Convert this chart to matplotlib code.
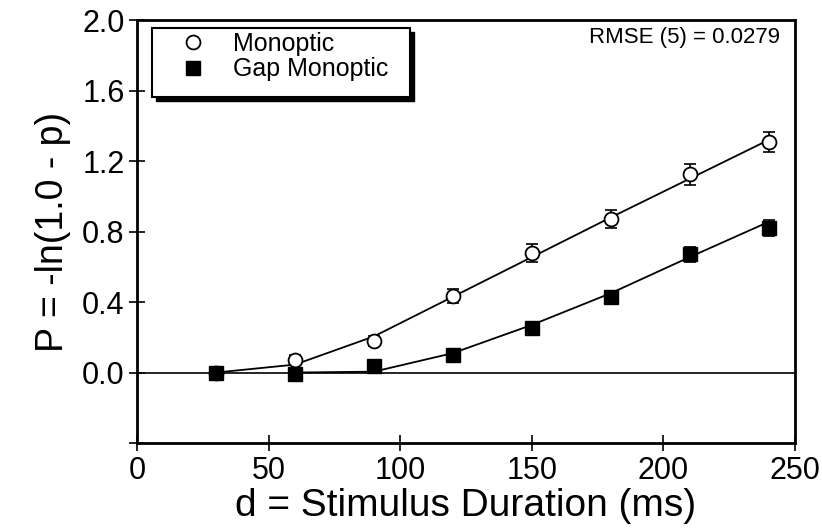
import matplotlib.pyplot as plt
from matplotlib.patches import Rectangle

plt.rcParams['font.family'] = ['Liberation Sans', 'DejaVu Sans']

durations = [30, 60, 90, 120, 150, 180, 210, 240]

# observed data
mono = [0.0, 0.07, 0.18, 0.435, 0.68, 0.87, 1.125, 1.31]
mono_err = [0.02, 0.03, 0.03, 0.04, 0.05, 0.05, 0.06, 0.057]
gap = [0.0, -0.01, 0.035, 0.10, 0.255, 0.43, 0.67, 0.82]
gap_err = [0.02, 0.02, 0.02, 0.03, 0.03, 0.03, 0.04, 0.045]

# model fits
mono_fit = [0.0, 0.045, 0.205, 0.43, 0.655, 0.88, 1.10, 1.32]
gap_fit = [0.0, 0.0, 0.005, 0.11, 0.27, 0.45, 0.655, 0.855]

fig = plt.figure(figsize=(8.22, 5.31), dpi=100)
ax = fig.add_axes([0.1667, 0.1657, 0.8003, 0.7963])

ax.axhline(0, color='black', lw=1.2, zorder=1)
ax.plot(durations, mono_fit, color='black', lw=1.3, zorder=2)
ax.plot(durations[1:], gap_fit[1:], color='black', lw=1.3, zorder=2)

ax.errorbar(durations, mono, yerr=mono_err, fmt='none', ecolor='black',
            elinewidth=1.2, capsize=4, capthick=1.2, zorder=3)
ax.errorbar(durations, gap, yerr=gap_err, fmt='none', ecolor='black',
            elinewidth=1.2, capsize=4, capthick=1.2, zorder=3)
ax.plot(durations, mono, 'o', ms=10, mfc='white', mec='black', mew=1.3,
        label='Monoptic', zorder=4)
ax.plot(durations, gap, 's', ms=10, mfc='black', mec='black',
        label='Gap Monoptic', zorder=5)

ax.set_xlim(0, 250)
ax.set_ylim(-0.4, 2.0)
ax.set_xticks([0, 50, 100, 150, 200, 250])
ax.set_yticks([-0.4, 0.0, 0.4, 0.8, 1.2, 1.6, 2.0])
ax.set_yticklabels(['', '0.0', '0.4', '0.8', '1.2', '1.6', '2.0'])
ax.tick_params(direction='inout', length=12, width=1.2, labelsize=22, pad=3)

for s in ax.spines.values():
    s.set_linewidth(2)

ax.set_xlabel('d = Stimulus Duration (ms)', fontsize=28, labelpad=2)
ax.set_ylabel('P = -ln(1.0 - p)', fontsize=27, labelpad=8)

ax.text(0.977, 0.96, 'RMSE (5) = 0.0279', transform=ax.transAxes,
        ha='right', va='center', fontsize=16)

# legend box with solid drop shadow
box_x, box_y, box_w, box_h = 0.0228, 0.818, 0.392, 0.163
ax.add_patch(Rectangle((box_x + 0.006, box_y - 0.009), box_w, box_h,
                       transform=ax.transAxes, facecolor='black',
                       edgecolor='black', zorder=6))
ax.add_patch(Rectangle((box_x, box_y), box_w, box_h, transform=ax.transAxes,
                       facecolor='white', edgecolor='black', lw=1.5, zorder=7))

leg = ax.legend(loc='upper left', bbox_to_anchor=(0.0623, 0.972),
                borderaxespad=0, borderpad=0, fontsize=18, frameon=False,
                handlelength=1.2, handletextpad=1.0, labelspacing=0.05)
leg.set_zorder(8)

fig.savefig('out.png', dpi=100)
